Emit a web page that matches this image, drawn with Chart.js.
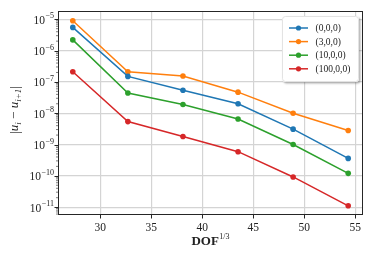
<!DOCTYPE html>
<html>
<head>
<meta charset="utf-8">
<script src="https://cdn.jsdelivr.net/npm/chart.js@4/dist/chart.umd.min.js"></script>
<style>
  html, body { margin: 0; padding: 0; background: #fff; }
</style>
</head>
<body>
<canvas id="chart" width="374" height="257"></canvas>
<script>
// --- Data ---
const dof = [27.3, 32.7, 38.1, 43.5, 48.9, 54.3];
const seriesLabels = ["(0,0,0)", "(3,0,0)", "(10,0,0)", "(100,0,0)"];
const err0 = [5.5e-6, 1.5e-7, 5.4e-8, 2.0e-8, 3.1e-9, 3.6e-10];
const err3 = [9.0e-6, 2.1e-7, 1.55e-7, 4.7e-8, 1.0e-8, 2.8e-9];
const err10 = [2.2e-6, 4.4e-8, 1.9e-8, 6.5e-9, 1.0e-9, 1.2e-10];
const err100 = [2.1e-7, 5.4e-9, 1.8e-9, 5.9e-10, 9.2e-11, 1.1e-11];
const xTicks = [30, 35, 40, 45, 50, 55];
const yExponents = [-11, -10, -9, -8, -7, -6, -5];

const colors = ["#1f77b4", "#ff7f0e", "#2ca02c", "#d62728"];
const serif = "'Liberation Serif', 'DejaVu Serif', serif";

const datasets = [err0, err3, err10, err100].map((vals, i) => ({
    label: seriesLabels[i],
    data: vals.map((v, j) => ({ x: dof[j], y: v })),
    borderColor: colors[i],
    backgroundColor: colors[i],
    borderWidth: 1.5,
    pointRadius: 2.8,
    pointBorderWidth: 0,
    tension: 0
}));

// --- Frame, minor ticks, tick labels, axis titles, legend ---
const decor = {
    id: "decor",
    afterDraw(chart) {
        const ctx = chart.ctx;
        const a = chart.chartArea;
        const xs = chart.scales.x;
        const ys = chart.scales.y;
        ctx.save();

        // frame
        ctx.strokeStyle = "#262626";
        ctx.lineWidth = 1;
        ctx.strokeRect(a.left + 0.5, a.top + 0.5, a.right - a.left - 1, a.bottom - a.top - 1);

        // major ticks
        ctx.beginPath();
        xTicks.forEach(t => {
            const px = Math.round(xs.getPixelForValue(t)) + 0.5;
            ctx.moveTo(px, a.bottom); ctx.lineTo(px, a.bottom + 3.5);
        });
        yExponents.forEach(e => {
            const py = Math.round(ys.getPixelForValue(Math.pow(10, e))) + 0.5;
            ctx.moveTo(a.left, py); ctx.lineTo(a.left - 3.5, py);
        });
        ctx.stroke();

        // minor y ticks
        ctx.lineWidth = 0.6;
        ctx.beginPath();
        for (let e = -12; e <= -5; e++) {
            for (let k = 2; k <= 9; k++) {
                const v = k * Math.pow(10, e);
                if (v < ys.min || v > ys.max) continue;
                const py = ys.getPixelForValue(v);
                ctx.moveTo(a.left, py); ctx.lineTo(a.left - 2, py);
            }
        }
        ctx.stroke();

        // x tick labels
        ctx.fillStyle = "#222";
        ctx.font = "11.5px " + serif;
        ctx.textAlign = "center";
        ctx.textBaseline = "alphabetic";
        xTicks.forEach(t => {
            ctx.fillText(String(t), xs.getPixelForValue(t), 231);
        });

        // y tick labels 10^e
        yExponents.forEach(e => {
            const py = ys.getPixelForValue(Math.pow(10, e));
            const exp = "\u2212" + Math.abs(e);
            ctx.font = "8px " + serif;
            const we = ctx.measureText(exp).width;
            ctx.textAlign = "right";
            ctx.fillText(exp, 54, py - 1);
            ctx.font = "11.5px " + serif;
            ctx.fillText("10", 54 - we - 0.5, py + 4.5);
        });

        // x axis title DOF^{1/3}
        ctx.textAlign = "left";
        ctx.font = "bold 13px " + serif;
        const wDof = ctx.measureText("DOF").width;
        ctx.font = "8px " + serif;
        const wExp = ctx.measureText("1/3").width;
        const x0 = (a.left + a.right) / 2 - (wDof + wExp + 0.5) / 2;
        ctx.font = "bold 13px " + serif;
        ctx.fillText("DOF", x0, 245);
        ctx.font = "8px " + serif;
        ctx.fillText("1/3", x0 + wDof + 0.5, 239);

        // y axis title |u_i - u_{i+1}|
        const parts = [
            { t: "|", f: "13px " + serif, dy: 1 },
            { t: "u", f: "italic 13px " + serif, dy: 0 },
            { t: "i", f: "italic 9px " + serif, dy: 2.5 },
            { t: " \u2212 ", f: "13px " + serif, dy: 0 },
            { t: "u", f: "italic 13px " + serif, dy: 0 },
            { t: "i+1", f: "italic 9px " + serif, dy: 2.5 },
            { t: "|", f: "13px " + serif, dy: 1 }
        ];
        let total = 0;
        parts.forEach(p => { ctx.font = p.f; p.w = ctx.measureText(p.t).width; total += p.w; });
        ctx.translate(18, 110);
        ctx.rotate(-Math.PI / 2);
        let cx = -total / 2;
        parts.forEach(p => {
            ctx.font = p.f;
            ctx.fillText(p.t, cx, p.dy);
            cx += p.w;
        });
        ctx.setTransform(1, 0, 0, 1, 0, 0);

        // legend
        const lx = 282, ly = 16, lw = 77, lh = 66;
        ctx.save();
        ctx.shadowColor = "rgba(0,0,0,0.3)";
        ctx.shadowOffsetX = 1.5;
        ctx.shadowOffsetY = 1.5;
        ctx.shadowBlur = 2;
        ctx.fillStyle = "#fff";
        ctx.beginPath();
        ctx.roundRect(lx, ly, lw, lh, 3);
        ctx.fill();
        ctx.restore();
        ctx.strokeStyle = "#dcdcdc";
        ctx.lineWidth = 0.8;
        ctx.beginPath();
        ctx.roundRect(lx + 0.5, ly + 0.5, lw - 1, lh - 1, 3);
        ctx.stroke();

        chart.data.datasets.forEach((ds, i) => {
            const yy = 28 + i * 13.6;
            ctx.strokeStyle = ds.borderColor;
            ctx.lineWidth = 1.5;
            ctx.beginPath();
            ctx.moveTo(289, yy); ctx.lineTo(308, yy);
            ctx.stroke();
            ctx.fillStyle = ds.borderColor;
            ctx.beginPath();
            ctx.arc(298.5, yy, 2.6, 0, Math.PI * 2);
            ctx.fill();
            ctx.fillStyle = "#222";
            ctx.font = "9.5px " + serif;
            ctx.textAlign = "left";
            ctx.fillText(ds.label, 315.5, yy + 3.2);
        });

        ctx.restore();
    }
};

new Chart(document.getElementById("chart"), {
    type: "line",
    data: { datasets },
    options: {
        responsive: false,
        animation: false,
        devicePixelRatio: 1,
        layout: { padding: { top: 11, right: 11, left: 0, bottom: 0 } },
        plugins: { legend: { display: false }, tooltip: { enabled: false } },
        scales: {
            x: {
                type: "linear",
                min: 25.85,
                max: 55.75,
                afterBuildTicks: s => { s.ticks = xTicks.map(v => ({ value: v })); },
                afterFit: s => { s.height = 42; },
                ticks: { display: false },
                grid: { color: "#d4d4d4", lineWidth: 1.2, drawTicks: false },
                border: { display: false }
            },
            y: {
                type: "logarithmic",
                min: 5.6e-12,
                max: 1.84e-5,
                afterBuildTicks: s => { s.ticks = yExponents.map(e => ({ value: Math.pow(10, e) })); },
                afterFit: s => { s.width = 58; },
                ticks: { display: false },
                grid: { color: "#d4d4d4", lineWidth: 1.2, drawTicks: false },
                border: { display: false }
            }
        }
    },
    plugins: [decor]
});
</script>
</body>
</html>
